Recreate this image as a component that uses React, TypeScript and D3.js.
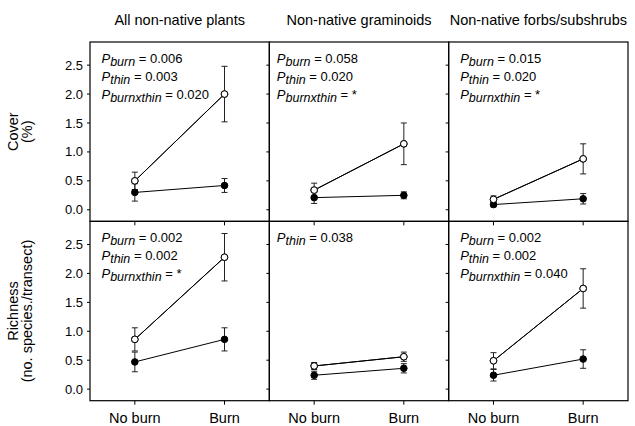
import React from "react";
import * as d3 from "d3";

const categories = ["No burn", "Burn"];
const panelTitles = ["All non-native plants", "Non-native graminoids", "Non-native forbs/subshrubs"];
const rowLabels = [["Cover", "(%)"], ["Richness", "(no. species./transect)"]];
const yTicks = [0, 0.5, 1.0, 1.5, 2.0, 2.5];

// Open circles (thinned) and filled circles (unthinned); one [No burn, Burn] pair per panel
const coverOpen = [[0.5, 2.0], [0.34, 1.14], [0.18, 0.88]];
const coverOpenErr = [[0.15, 0.48], [0.12, 0.36], [0.06, 0.26]];
const coverFilled = [[0.3, 0.42], [0.21, 0.25], [0.09, 0.19]];
const coverFilledErr = [[0.15, 0.12], [0.1, 0.06], [0.04, 0.09]];

const richOpen = [[0.86, 2.28], [0.4, 0.56], [0.49, 1.74]];
const richOpenErr = [[0.2, 0.41], [0.06, 0.08], [0.14, 0.34]];
const richFilled = [[0.47, 0.86], [0.24, 0.36], [0.24, 0.52]];
const richFilledErr = [[0.17, 0.2], [0.07, 0.08], [0.1, 0.16]];

const coverStats = [
  [["burn", "0.006"], ["thin", "0.003"], ["burnxthin", "0.020"]],
  [["burn", "0.058"], ["thin", "0.020"], ["burnxthin", "*"]],
  [["burn", "0.015"], ["thin", "0.020"], ["burnxthin", "*"]],
];
const richStats = [
  [["burn", "0.002"], ["thin", "0.002"], ["burnxthin", "*"]],
  [["thin", "0.038"]],
  [["burn", "0.002"], ["thin", "0.002"], ["burnxthin", "0.040"]],
];

const FONT = "'Liberation Sans', Arial, Helvetica, sans-serif";
const W = 635, H = 426;
const left = 90, right = 628, top = 42, bottom = 400.7;
const colW = (right - left) / 3;
const rowH = (bottom - top) / 2;
const statOffsets = [11.5, 7.5, 11.5];

const rows = [
  { open: coverOpen, openErr: coverOpenErr, filled: coverFilled, filledErr: coverFilledErr, stats: coverStats },
  { open: richOpen, openErr: richOpenErr, filled: richFilled, filledErr: richFilledErr, stats: richStats },
];

function Series({ vals, errs, x, y, fill }: any) {
  const pts = categories.map((c, i) => [x(c) as number, y(vals[i])] as [number, number]);
  const line = d3.line()(pts) as string;
  return (
    <g>
      <path d={line} fill="none" stroke="#000" strokeWidth={1} />
      {categories.map((c, i) => {
        const cx = x(c) as number;
        const y1 = y(vals[i] + errs[i]);
        const y2 = y(vals[i] - errs[i]);
        return (
          <g key={c}>
            <line x1={cx} x2={cx} y1={y1} y2={y2} stroke="#222" strokeWidth={1} />
            <line x1={cx - 3} x2={cx + 3} y1={y1} y2={y1} stroke="#222" strokeWidth={1} />
            <line x1={cx - 3} x2={cx + 3} y1={y2} y2={y2} stroke="#222" strokeWidth={1} />
          </g>
        );
      })}
      {categories.map((c, i) => (
        <circle key={c} cx={x(c) as number} cy={y(vals[i])} r={3.3} fill={fill} stroke="#000" strokeWidth={1} />
      ))}
    </g>
  );
}

export default function App() {
  return (
    <svg width={W} height={H} style={{ position: "absolute", left: 0, top: 0 }} fontFamily={FONT}>
      <rect x={0} y={0} width={W} height={H} fill="#fff" />
      {panelTitles.map((t, j) => (
        <text key={t} x={left + colW * j + colW / 2} y={25} textAnchor="middle" fontSize={14.5}>
          {t}
        </text>
      ))}
      {rows.map((row, r) => {
        const y0 = top + rowH * r;
        const y = d3.scaleLinear().domain([-0.2, 2.9]).range([y0 + rowH, y0]);
        const labelCenter = y0 + rowH / 2;
        return (
          <g key={r}>
            <g transform={`translate(18,${labelCenter}) rotate(-90)`}>
              <text textAnchor="middle" fontSize={14.5}>{rowLabels[r][0]}</text>
              <text textAnchor="middle" fontSize={14.5} y={14}>{rowLabels[r][1]}</text>
            </g>
            {yTicks.map((t) => (
              <text key={t} x={83} y={y(t)} dy="0.35em" textAnchor="end" fontSize={13}>
                {d3.format(".1f")(t)}
              </text>
            ))}
            {[0, 1, 2].map((j) => {
              const x0 = left + colW * j;
              const x = d3.scalePoint<string>().domain(categories).range([x0, x0 + colW]).padding(0.5);
              return (
                <g key={j}>
                  {yTicks.map((t) => (
                    <line key={t} x1={x0 - 3} x2={x0} y1={y(t)} y2={y(t)} stroke="#000" strokeWidth={1} />
                  ))}
                  {categories.map((c) => (
                    <line key={c} x1={x(c) as number} x2={x(c) as number} y1={y0 + rowH} y2={y0 + rowH + 4} stroke="#000" strokeWidth={1} />
                  ))}
                  <rect x={x0} y={y0} width={colW} height={rowH} fill="none" stroke="#000" strokeWidth={1.2} />
                  <Series vals={row.open[j]} errs={row.openErr[j]} x={x} y={y} fill="#000" />
                  <Series vals={row.filled[j]} errs={row.filledErr[j]} x={x} y={y} fill="#000" />
                  <Series vals={row.open[j]} errs={[0, 0]} x={x} y={y} fill="#fff" />
                  {row.stats[j].map((s, k) => (
                    <text key={k} x={x0 + statOffsets[j]} y={y0 + 20.5 + k * 18} fontSize={13}>
                      <tspan fontStyle="italic">P</tspan>
                      <tspan fontStyle="italic" fontSize={12.5} dy={3.5}>{s[0]}</tspan>
                      <tspan dy={-3.5}>{` = ${s[1]}`}</tspan>
                    </text>
                  ))}
                  {r === 1 &&
                    categories.map((c) => (
                      <text key={c} x={x(c) as number} y={423} textAnchor="middle" fontSize={14.5}>
                        {c}
                      </text>
                    ))}
                </g>
              );
            })}
          </g>
        );
      })}
    </svg>
  );
}
